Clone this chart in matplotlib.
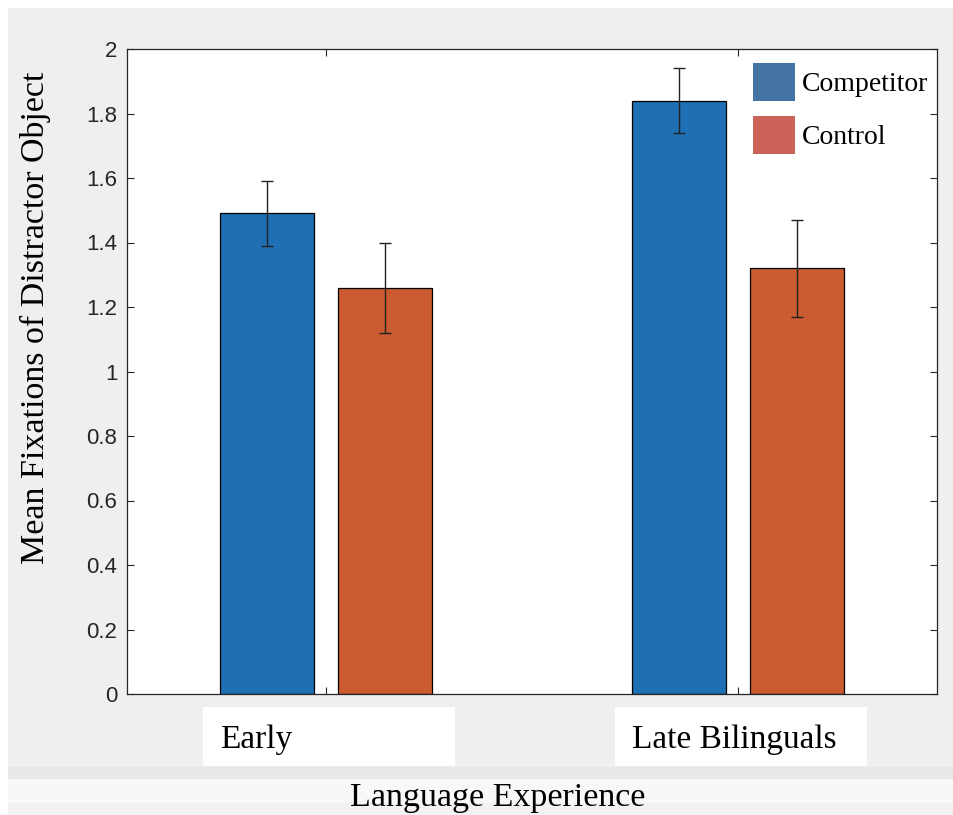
import matplotlib.pyplot as plt
import matplotlib.transforms as mtransforms
from matplotlib.patches import Rectangle, Patch

# Mean fixations per language-experience group
groups = ['Early', 'Late Bilinguals']
competitor = [1.49, 1.84]
competitor_err = [0.10, 0.10]
control = [1.26, 1.32]
control_err = [0.14, 0.15]
series_names = ['Competitor', 'Control']

W, H = 954, 815
fig = plt.figure(figsize=(W / 100, H / 100), dpi=100, facecolor='white')

def px_rect(x0, y0, x1, y1, color):
    # rectangle given in pixel coords from the top-left corner
    fig.patches.append(Rectangle((x0 / W, 1 - y1 / H), (x1 - x0) / W, (y1 - y0) / H,
                                 transform=fig.transFigure, facecolor=color,
                                 edgecolor='none', zorder=-10))

# window-style background bands
px_rect(8, 8, W, 767, '#efefef')
px_rect(8, 767, W, 779, '#e8e8e8')
px_rect(8, 779, W, 803, '#f8f8f8')
px_rect(8, 803, W, H, '#f2f2f2')

ax = fig.add_axes([127 / W, 1 - 694 / H, 810 / W, 645 / H])
ax.set_facecolor('white')

x = [1, 2]
width = 0.2286
offset = 0.1429
blue = '#1f6fb4'
orange = '#cb5b30'

ax.bar([i - offset for i in x], competitor, width, color=blue, edgecolor='black', linewidth=0.9)
ax.bar([i + offset for i in x], control, width, color=orange, edgecolor='black', linewidth=0.9)
ax.errorbar([i - offset for i in x], competitor, yerr=competitor_err, fmt='none',
            ecolor='#222222', elinewidth=1.0, capsize=4.5, capthick=1.0)
ax.errorbar([i + offset for i in x], control, yerr=control_err, fmt='none',
            ecolor='#222222', elinewidth=1.0, capsize=4.5, capthick=1.0)

ax.set_xlim(0.517, 2.483)
ax.set_ylim(0, 2)
ax.set_yticks([0, 0.2, 0.4, 0.6, 0.8, 1, 1.2, 1.4, 1.6, 1.8, 2])
ax.set_yticklabels(['0', '0.2', '0.4', '0.6', '0.8', '1', '1.2', '1.4', '1.6', '1.8', '2'])
ax.set_xticks(x)
ax.set_xticklabels([])
ax.tick_params(axis='both', direction='in', length=5, width=0.8, color='#262626',
               top=True, right=True, labelsize=16, labelcolor='#262626', pad=7)
for lab in ax.get_yticklabels():
    lab.set_fontfamily('Liberation Sans')
for s in ax.spines.values():
    s.set_color('#262626')
    s.set_linewidth(0.9)

serif = 'Liberation Serif'

# category labels in white boxes under each group
blend = mtransforms.blended_transform_factory(ax.transData, fig.transFigure)
for xi, name in zip(x, groups):
    ax.add_patch(Rectangle((xi - 0.298, 1 - 766 / H), 0.612, 59 / H, transform=blend,
                           facecolor='white', edgecolor='none', clip_on=False))
    ax.text(xi - 0.258, 1 - 748 / H, name, transform=blend, ha='left', va='baseline',
            fontsize=24, fontfamily=serif, color='black', clip_on=False)

fig.text(498 / W, 1 - 806 / H, 'Language Experience', ha='center', va='baseline',
         fontsize=24.5, fontfamily=serif, color='black')
fig.text(35 / W, 1 - 318 / H, 'Mean Fixations of Distractor Object', ha='center',
         va='center', rotation=90, fontsize=24.5, fontfamily=serif, color='black')

handles = [Patch(facecolor='#4573a3', edgecolor='none'),
           Patch(facecolor='#cc635a', edgecolor='none')]
ax.legend(handles, series_names, loc='upper left', bbox_to_anchor=(753 / W, 1 - 63 / H),
          bbox_transform=fig.transFigure, frameon=False, borderpad=0, borderaxespad=0,
          handlelength=1.51, handleheight=1.73, labelspacing=0.54, handletextpad=0.25,
          prop={'family': serif, 'size': 20})

fig.savefig('out.png', dpi=100, facecolor=fig.get_facecolor())
